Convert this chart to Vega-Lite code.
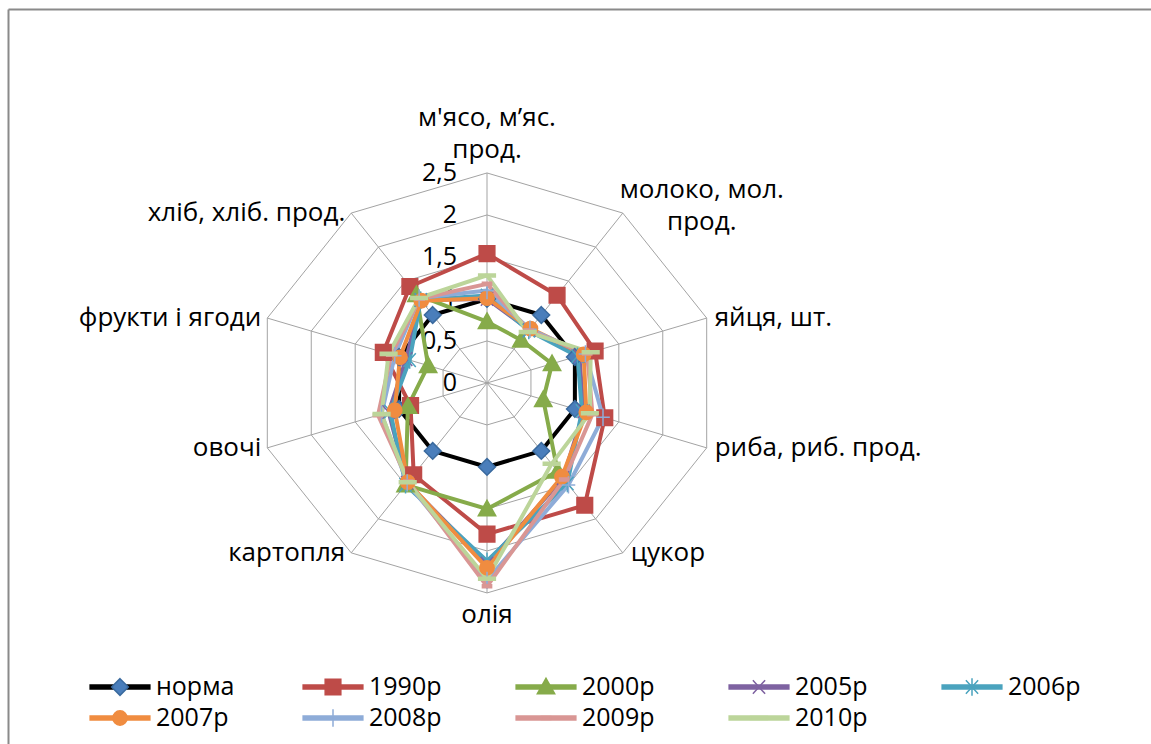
{
  "$schema": "https://vega.github.io/schema/vega-lite/v6.json",
  "width": 1143,
  "height": 735,
  "autosize": {"type": "none"},
  "padding": {"left": 8, "top": 9, "right": 0, "bottom": 0},
  "background": "white",
  "config": {"view": {"stroke": null}, "font": "Open Sans"},
  "datasets": {
    "cats": [
      {"cat": "м'ясо, м’яс. прод.", "k": 0},
      {"cat": "молоко, мол. прод.", "k": 1},
      {"cat": "яйця, шт.", "k": 2},
      {"cat": "риба, риб. прод.", "k": 3},
      {"cat": "цукор", "k": 4},
      {"cat": "олія", "k": 5},
      {"cat": "картопля", "k": 6},
      {"cat": "овочі", "k": 7},
      {"cat": "фрукти і ягоди", "k": 8},
      {"cat": "хліб, хліб. прод.", "k": 9}
    ],
    "cons": [
      {"cat": "м'ясо, м’яс. прод.", "норма": 1, "1990р": 1.54, "2000р": 0.73, "2005р": 1.0, "2006р": 1.04, "2007р": 1.01, "2008р": 1.1, "2009р": 1.18, "2010р": 1.28},
      {"cat": "молоко, мол. прод.", "норма": 1, "1990р": 1.29, "2000р": 0.63, "2005р": 0.78, "2006р": 0.77, "2007р": 0.8, "2008р": 0.79, "2009р": 0.77, "2010р": 0.75},
      {"cat": "яйця, шт.", "норма": 1, "1990р": 1.23, "2000р": 0.74, "2005р": 1.05, "2006р": 1.03, "2007р": 1.1, "2008р": 1.12, "2009р": 1.14, "2010р": 1.18},
      {"cat": "риба, риб. прод.", "норма": 1, "1990р": 1.34, "2000р": 0.64, "2005р": 1.1, "2006р": 1.08, "2007р": 1.13, "2008р": 1.32, "2009р": 1.2, "2010р": 1.17},
      {"cat": "цукор", "норма": 1, "1990р": 1.8, "2000р": 1.3, "2005р": 1.4, "2006р": 1.48, "2007р": 1.38, "2008р": 1.5, "2009р": 1.42, "2010р": 1.19},
      {"cat": "олія", "норма": 1, "1990р": 1.8, "2000р": 1.5, "2005р": 2.15, "2006р": 2.12, "2007р": 2.2, "2008р": 2.35, "2009р": 2.42, "2010р": 2.33},
      {"cat": "картопля", "норма": 1, "1990р": 1.35, "2000р": 1.5, "2005р": 1.47, "2006р": 1.5, "2007р": 1.46, "2008р": 1.47, "2009р": 1.45, "2010р": 1.46},
      {"cat": "овочі", "норма": 1, "1990р": 0.87, "2000р": 0.9, "2005р": 1.12, "2006р": 1.1, "2007р": 1.05, "2008р": 1.2, "2009р": 1.24, "2010р": 1.2},
      {"cat": "фрукти і ягоди", "норма": 1, "1990р": 1.18, "2000р": 0.67, "2005р": 0.92, "2006р": 0.88, "2007р": 0.99, "2008р": 1.05, "2009р": 1.09, "2010р": 1.12},
      {"cat": "хліб, хліб. прод.", "норма": 1, "1990р": 1.42, "2000р": 1.3, "2005р": 1.22, "2006р": 1.22, "2007р": 1.21, "2008р": 1.25, "2009р": 1.24, "2010р": 1.25}
    ],
    "rings": [
      {"r": 0, "lab": "0"},
      {"r": 0.5, "lab": "0,5"},
      {"r": 1, "lab": "1"},
      {"r": 1.5, "lab": "1,5"},
      {"r": 2, "lab": "2"},
      {"r": 2.5, "lab": "2,5"}
    ],
    "grid": [
      {"k": 0, "r": 0.5}, {"k": 1, "r": 0.5}, {"k": 2, "r": 0.5}, {"k": 3, "r": 0.5}, {"k": 4, "r": 0.5}, {"k": 5, "r": 0.5}, {"k": 6, "r": 0.5}, {"k": 7, "r": 0.5}, {"k": 8, "r": 0.5}, {"k": 9, "r": 0.5},
      {"k": 0, "r": 1}, {"k": 1, "r": 1}, {"k": 2, "r": 1}, {"k": 3, "r": 1}, {"k": 4, "r": 1}, {"k": 5, "r": 1}, {"k": 6, "r": 1}, {"k": 7, "r": 1}, {"k": 8, "r": 1}, {"k": 9, "r": 1},
      {"k": 0, "r": 1.5}, {"k": 1, "r": 1.5}, {"k": 2, "r": 1.5}, {"k": 3, "r": 1.5}, {"k": 4, "r": 1.5}, {"k": 5, "r": 1.5}, {"k": 6, "r": 1.5}, {"k": 7, "r": 1.5}, {"k": 8, "r": 1.5}, {"k": 9, "r": 1.5},
      {"k": 0, "r": 2}, {"k": 1, "r": 2}, {"k": 2, "r": 2}, {"k": 3, "r": 2}, {"k": 4, "r": 2}, {"k": 5, "r": 2}, {"k": 6, "r": 2}, {"k": 7, "r": 2}, {"k": 8, "r": 2}, {"k": 9, "r": 2},
      {"k": 0, "r": 2.5}, {"k": 1, "r": 2.5}, {"k": 2, "r": 2.5}, {"k": 3, "r": 2.5}, {"k": 4, "r": 2.5}, {"k": 5, "r": 2.5}, {"k": 6, "r": 2.5}, {"k": 7, "r": 2.5}, {"k": 8, "r": 2.5}, {"k": 9, "r": 2.5}
    ]
  },
  "layer": [
    {
      "data": {"name": "grid"},
      "transform": [
        {"calculate": "datum.r*sin(datum.k*PI/5)", "as": "x"},
        {"calculate": "datum.r*cos(datum.k*PI/5)", "as": "y"}
      ],
      "mark": {"type": "line", "interpolate": "linear-closed", "stroke": "#a3a3a3", "strokeWidth": 1},
      "encoding": {
        "x": {"field": "x", "type": "quantitative", "scale": {"domain": [-5.184, 7.186], "nice": false, "zero": false},
              "axis": {"orient": "top", "title": null, "labels": false, "ticks": false, "grid": false, "domain": true, "domainColor": "#8a8a8a", "domainWidth": 2}},
        "y": {"field": "y", "type": "quantitative", "scale": {"domain": [-4.298, 4.452], "nice": false, "zero": false},
              "axis": {"orient": "left", "title": null, "labels": false, "ticks": false, "grid": false, "domain": true, "domainColor": "#8a8a8a", "domainWidth": 2}},
        "detail": {"field": "r", "type": "nominal"},
        "order": {"field": "k", "type": "quantitative"}
      }
    },
    {
      "data": {"name": "cats"},
      "transform": [
        {"calculate": "2.5*sin(datum.k*PI/5)", "as": "x"},
        {"calculate": "2.5*cos(datum.k*PI/5)", "as": "y"},
        {"calculate": "0", "as": "x0"},
        {"calculate": "0", "as": "y0"}
      ],
      "mark": {"type": "rule", "stroke": "#a3a3a3", "strokeWidth": 1},
      "encoding": {
        "x": {"field": "x0", "type": "quantitative"},
        "y": {"field": "y0", "type": "quantitative"},
        "x2": {"field": "x"},
        "y2": {"field": "y"}
      }
    },
    {
      "data": {"name": "rings"},
      "transform": [{"calculate": "0", "as": "x0"}],
      "mark": {"type": "text", "align": "right", "baseline": "middle", "dx": -30, "fontSize": 25, "font": "Open Sans", "color": "#000"},
      "encoding": {
        "x": {"field": "x0", "type": "quantitative"},
        "y": {"field": "r", "type": "quantitative"},
        "text": {"field": "lab"}
      }
    },
    {
      "data": {"name": "cats"},
      "transform": [
        {"filter": "datum.k == 0"},
        {"calculate": "2.5*sin(datum.k*PI/5)", "as": "x"},
        {"calculate": "2.5*cos(datum.k*PI/5)", "as": "y"},
        {"calculate": "[replace(datum.cat, ' прод.', ''), 'прод.']", "as": "lab"}
      ],
      "mark": {"type": "text", "align": "center", "baseline": "middle", "dy": -55, "lineHeight": 32, "fontSize": 26, "font": "Open Sans", "color": "#000"},
      "encoding": {"x": {"field": "x", "type": "quantitative"}, "y": {"field": "y", "type": "quantitative"}, "text": {"field": "lab"}}
    },
    {
      "data": {"name": "cats"},
      "transform": [
        {"filter": "datum.k == 1"},
        {"calculate": "2.5*sin(datum.k*PI/5)", "as": "x"},
        {"calculate": "2.5*cos(datum.k*PI/5)", "as": "y"},
        {"calculate": "[replace(datum.cat, ' прод.', ''), 'прод.']", "as": "lab"}
      ],
      "mark": {"type": "text", "align": "center", "baseline": "middle", "dx": 79, "dy": -23, "lineHeight": 32, "fontSize": 26, "font": "Open Sans", "color": "#000"},
      "encoding": {"x": {"field": "x", "type": "quantitative"}, "y": {"field": "y", "type": "quantitative"}, "text": {"field": "lab"}}
    },
    {
      "data": {"name": "cats"},
      "transform": [
        {"filter": "datum.k >= 2 && datum.k <= 4"},
        {"calculate": "2.5*sin(datum.k*PI/5)", "as": "x"},
        {"calculate": "2.5*cos(datum.k*PI/5)", "as": "y"}
      ],
      "mark": {"type": "text", "align": "left", "baseline": "middle", "dx": 8, "fontSize": 26, "font": "Open Sans", "color": "#000"},
      "encoding": {"x": {"field": "x", "type": "quantitative"}, "y": {"field": "y", "type": "quantitative"}, "text": {"field": "cat"}}
    },
    {
      "data": {"name": "cats"},
      "transform": [
        {"filter": "datum.k == 5"},
        {"calculate": "2.5*sin(datum.k*PI/5)", "as": "x"},
        {"calculate": "2.5*cos(datum.k*PI/5)", "as": "y"}
      ],
      "mark": {"type": "text", "align": "center", "baseline": "middle", "dy": 22, "fontSize": 26, "font": "Open Sans", "color": "#000"},
      "encoding": {"x": {"field": "x", "type": "quantitative"}, "y": {"field": "y", "type": "quantitative"}, "text": {"field": "cat"}}
    },
    {
      "data": {"name": "cats"},
      "transform": [
        {"filter": "datum.k >= 6"},
        {"calculate": "2.5*sin(datum.k*PI/5)", "as": "x"},
        {"calculate": "2.5*cos(datum.k*PI/5)", "as": "y"}
      ],
      "mark": {"type": "text", "align": "right", "baseline": "middle", "dx": -6, "fontSize": 26, "font": "Open Sans", "color": "#000"},
      "encoding": {"x": {"field": "x", "type": "quantitative"}, "y": {"field": "y", "type": "quantitative"}, "text": {"field": "cat"}}
    },
    {
      "data": {"name": "cons"},
      "transform": [
        {"fold": ["норма", "1990р", "2000р", "2005р", "2006р", "2007р", "2008р", "2009р", "2010р"], "as": ["series", "v"]},
        {"lookup": "cat", "from": {"data": {"name": "cats"}, "key": "cat", "fields": ["k"]}},
        {"calculate": "datum.v*sin(datum.k*PI/5)", "as": "x"},
        {"calculate": "datum.v*cos(datum.k*PI/5)", "as": "y"}
      ],
      "mark": {"type": "line", "interpolate": "linear-closed", "strokeWidth": 4, "strokeJoin": "round"},
      "encoding": {
        "x": {"field": "x", "type": "quantitative"},
        "y": {"field": "y", "type": "quantitative"},
        "order": {"field": "k", "type": "quantitative"},
        "color": {
          "field": "series", "type": "nominal",
          "sort": ["норма", "1990р", "2000р", "2005р", "2006р", "2007р", "2008р", "2009р", "2010р"],
          "scale": {
            "range": ["#000000", "#BE4B48", "#86AB4A", "#7E62A1", "#4AA3BE", "#F08C40", "#8EACD8", "#D99694", "#BCD59A"]
          },
          "legend": {
            "orient": "none", "legendX": 94, "legendY": 660, "columns": 5, "direction": "horizontal", "gridAlign": "all",
            "columnPadding": 64, "rowPadding": 0, "padding": 0, "title": null,
            "symbolType": "M-1.8,-0.12L1.8,-0.12M-1.8,-0.06L1.8,-0.06M-1.8,0L1.8,0M-1.8,0.06L1.8,0.06M-1.8,0.12L1.8,0.12",
            "symbolSize": 1156, "symbolStrokeWidth": 1.5,
            "labelFont": "Open Sans", "labelFontSize": 25, "labelOffset": 18, "labelOpacity": 0, "labelLimit": 400, "zindex": 0
          }
        }
      }
    },
    {
      "data": {"name": "cons"},
      "transform": [
        {"fold": ["норма", "1990р", "2000р", "2005р", "2006р", "2007р", "2008р", "2009р", "2010р"], "as": ["series", "v"]},
        {"lookup": "cat", "from": {"data": {"name": "cats"}, "key": "cat", "fields": ["k"]}},
        {"calculate": "datum.v*sin(datum.k*PI/5)", "as": "x"},
        {"calculate": "datum.v*cos(datum.k*PI/5)", "as": "y"}
      ],
      "mark": {"type": "point", "filled": true, "size": 1156, "strokeWidth": 1.5, "opacity": 1},
      "encoding": {
        "x": {"field": "x", "type": "quantitative"},
        "y": {"field": "y", "type": "quantitative"},
        "fill": {
          "field": "series", "type": "nominal",
          "scale": {
            "domain": ["норма", "1990р", "2000р", "2005р", "2006р", "2007р", "2008р", "2009р", "2010р"],
            "range": ["#4A7EBB", "#BE4B48", "#86AB4A", "#7E62A1", "#4AA3BE", "#F08C40", "#8EACD8", "#D99694", "#BCD59A"]
          },
          "legend": {
            "orient": "none", "legendX": 94, "legendY": 660, "columns": 5, "direction": "horizontal", "gridAlign": "all",
            "columnPadding": 64, "rowPadding": 0, "padding": 0, "title": null,
            "symbolSize": 1156, "symbolStrokeWidth": 1.5,
            "labelFont": "Open Sans", "labelFontSize": 25, "labelOffset": 18, "labelColor": "#000", "labelLimit": 400, "zindex": 1
          }
        },
        "stroke": {
          "field": "series", "type": "nominal",
          "scale": {
            "domain": ["норма", "1990р", "2000р", "2005р", "2006р", "2007р", "2008р", "2009р", "2010р"],
            "range": ["#3A6A9E", "#BE4B48", "#86AB4A", "#7E62A1", "#4AA3BE", "#F08C40", "#8EACD8", "#D99694", "#BCD59A"]
          },
          "legend": {
            "orient": "none", "legendX": 94, "legendY": 660, "columns": 5, "direction": "horizontal", "gridAlign": "all",
            "columnPadding": 64, "rowPadding": 0, "padding": 0, "title": null,
            "symbolSize": 1156, "symbolStrokeWidth": 1.5,
            "labelFont": "Open Sans", "labelFontSize": 25, "labelOffset": 18, "labelColor": "#000", "labelLimit": 400, "zindex": 1
          }
        },
        "shape": {
          "field": "series", "type": "nominal",
          "scale": {
            "domain": ["норма", "1990р", "2000р", "2005р", "2006р", "2007р", "2008р", "2009р", "2010р"],
            "range": [
            "M-1.8,0L-1.8,0M1.8,0L1.8,0M0,-0.49L0.49,0L0,0.49L-0.49,0Z",
            "M-1.8,0L-1.8,0M1.8,0L1.8,0M-0.46,-0.46L0.46,-0.46L0.46,0.46L-0.46,0.46Z",
            "M-1.8,0L-1.8,0M1.8,0L1.8,0M0,-0.51L0.51,0.4L-0.51,0.4Z",
            "M-1.8,0L-1.8,0M1.8,0L1.8,0M-0.36,-0.4L0.36,0.4M-0.36,0.4L0.36,-0.4",
            "M-1.8,0L-1.8,0M1.8,0L1.8,0M-0.36,-0.4L0.36,0.4M-0.36,0.4L0.36,-0.4M0,-0.51L0,0.51",
            "M-1.8,0L-1.8,0M1.8,0L1.8,0M-0.42,0A0.42,0.42 0 1,0 0.42,0A0.42,0.42 0 1,0 -0.42,0Z",
            "M-1.8,0L-1.8,0M1.8,0L1.8,0M-0.4,0L0.4,0M0,-0.51L0,0.51",
            "M-1.8,0L-1.8,0M1.8,0L1.8,0M-0.27,-0.09L0.27,-0.09L0.27,0.09L-0.27,0.09Z",
            "M-1.8,0L-1.8,0M1.8,0L1.8,0M-0.49,-0.09L0.49,-0.09L0.49,0.09L-0.49,0.09Z"
          ]},
          "legend": {
            "orient": "none", "legendX": 94, "legendY": 660, "columns": 5, "direction": "horizontal", "gridAlign": "all",
            "columnPadding": 64, "rowPadding": 0, "padding": 0, "title": null,
            "symbolSize": 1156, "symbolStrokeWidth": 1.5,
            "labelFont": "Open Sans", "labelFontSize": 25, "labelOffset": 18, "labelColor": "#000", "labelLimit": 400, "zindex": 1
          }
        }
      }
    }
  ]
}
